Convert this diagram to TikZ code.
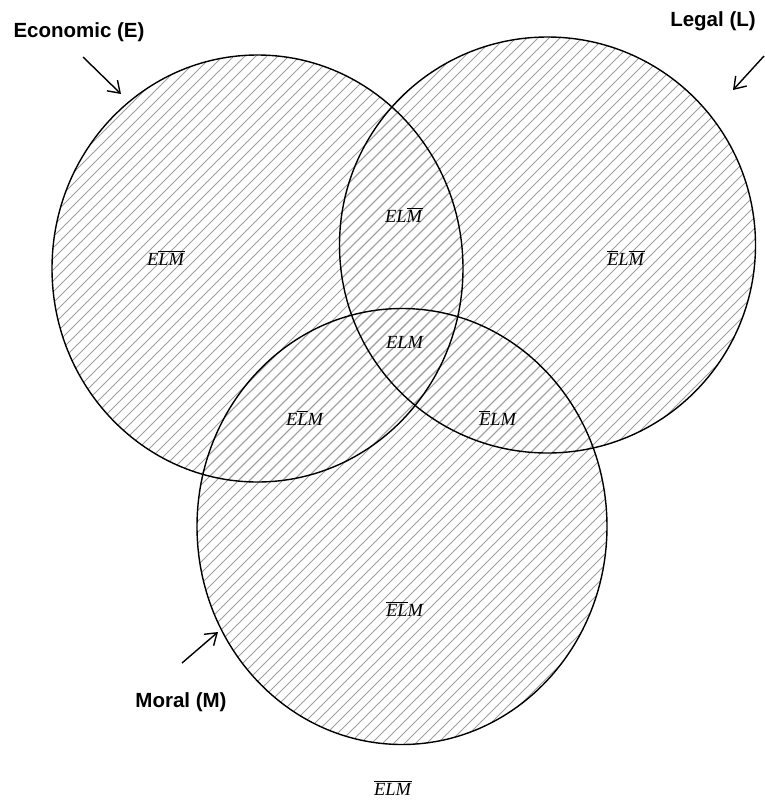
\documentclass[tikz,border=0pt]{standalone}
\usepackage{fontspec}
\setmainfont{Liberation Serif}
\newfontfamily\labfont{Liberation Sans}
\usetikzlibrary{arrows.meta,shapes.geometric}
\newcommand{\ovl}[1]{$\overline{\hbox{\textit{#1}}}$}
\tikzset{
  ring/.style={draw=black, line width=1.4pt},
  hatch/.style={draw=black!38, line width=0.9pt},
  setlabel/.style={font=\labfont\bfseries\fontsize{20.5}{23}\selectfont, inner sep=0pt},
  region/.style={font=\fontsize{18.5}{21}\selectfont, inner sep=0pt},
  pointer/.style={line width=1.4pt, -{Straight Barb[length=11pt,width=15pt,line width=1.4pt]}}
}
\begin{document}
\begin{tikzpicture}[x=1pt,y=-1pt]
\useasboundingbox (0,0) rectangle (764,801);
% hatching
\foreach \cx/\cy/\rx/\ry in {257.5/268.5/205.5/213.5, 547.5/245/208/208, 402/526.5/205/218}{
  \begin{scope}
    \clip (\cx,\cy) ellipse[x radius=\rx, y radius=\ry];
    \foreach \k in {-830,-819,...,780}{
      \draw[hatch] (\k,801) -- (\k+801,0);
    }
  \end{scope}
}
\node[ring, ellipse, minimum width=411pt, minimum height=427pt, inner sep=0pt] (E) at (257.5,268.5) {};
\node[ring, circle, minimum size=416pt, inner sep=0pt] (L) at (547.5,245) {};
\node[ring, ellipse, minimum width=410pt, minimum height=436pt, inner sep=0pt] (M) at (402,526.5) {};
% set labels
\node[setlabel] (tE) at (79,32) {Economic (E)};
\node[setlabel] (tL) at (713,21) {Legal (L)};
\node[setlabel] (tM) at (181,702) {Moral (M)};
\coordinate (aE1) at (83,57);
\coordinate (aE2) at (121,94);
\coordinate (aL1) at (764,56);
\coordinate (aL2) at (733,90);
\coordinate (aM1) at (182,663);
\coordinate (aM2) at (218,632);
\draw[pointer] (aE1) -- (aE2);
\draw[pointer] (aL1) -- (aL2);
\draw[pointer] (aM1) -- (aM2);
% region labels
\node[region] (r1) at (166,258) {\textit{E}\ovl{L}\ovl{M}};
\node[region] (r2) at (404,215) {\textit{EL}\ovl{M}};
\node[region] (r3) at (626,258) {\ovl{E}\textit{L}\ovl{M}};
\node[region] (r4) at (405,342) {\textit{ELM}};
\node[region] (r5) at (305,418) {\textit{E}\ovl{L}\textit{M}};
\node[region] (r6) at (498,418) {\ovl{E}\textit{LM}};
\node[region] (r7) at (405,609) {\ovl{EL}\textit{M}};
\node[region] (r8) at (393,788) {\ovl{EL}\ovl{M}};
\end{tikzpicture}
\end{document}
